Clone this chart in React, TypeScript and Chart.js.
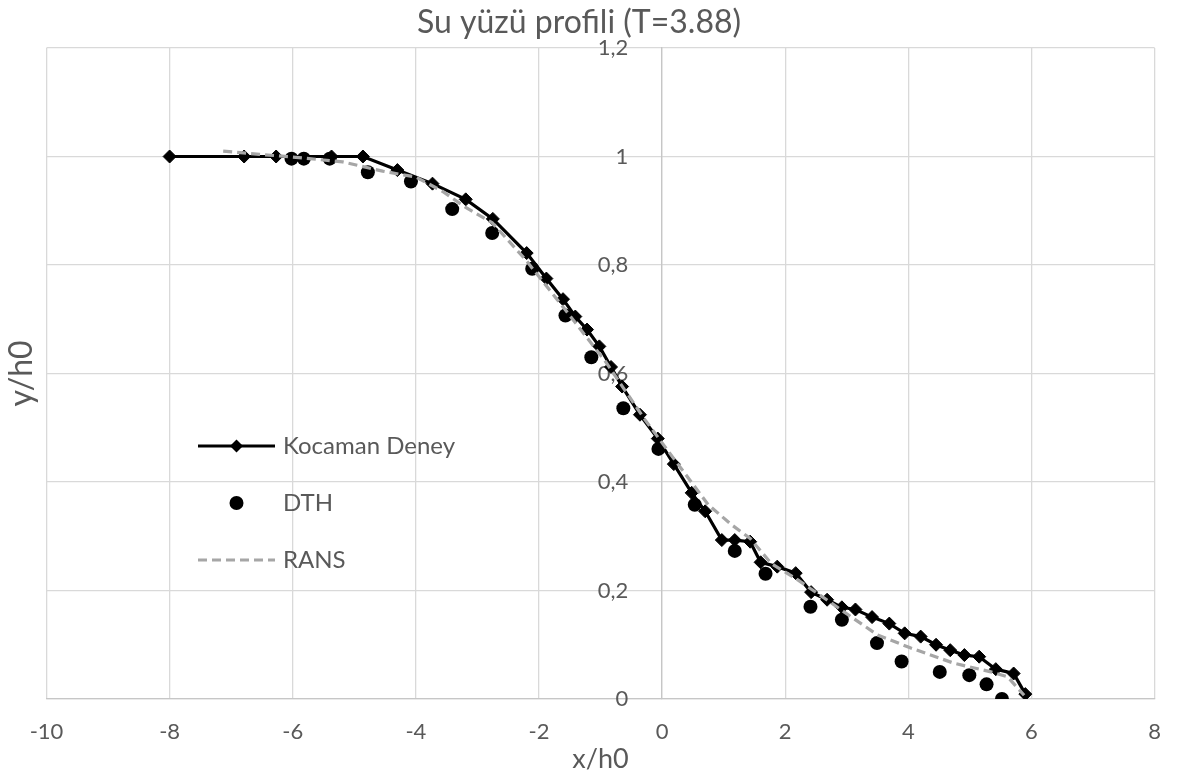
import React, { useEffect, useRef } from 'react';
import { Chart, registerables } from 'chart.js';

Chart.register(...registerables);

const chartTitle = 'Su yüzü profili (T=3.88)';
const xAxisTitle = 'x/h0';
const yAxisTitle = 'y/h0';
const seriesNames = ['Kocaman Deney', 'DTH', 'RANS'];

const xTicks = [-10, -8, -6, -4, -2, 0, 2, 4, 6, 8];
const xTickLabels = ['-10', '-8', '-6', '-4', '-2', '0', '2', '4', '6', '8'];
const yTicks = [0, 0.2, 0.4, 0.6, 0.8, 1.0, 1.2];
const yTickLabels = ['0', '0,2', '0,4', '0,6', '0,8', '1', '1,2'];

const kocamanX = [-8.0, -6.79, -6.27, -5.37, -4.86, -4.30, -3.73, -3.19, -2.75, -2.20, -1.88, -1.61, -1.41, -1.22, -1.02, -0.83, -0.65, -0.36, -0.07, 0.19, 0.48, 0.70, 0.97, 1.18, 1.43, 1.60, 1.87, 2.17, 2.42, 2.68, 2.92, 3.14, 3.41, 3.69, 3.94, 4.20, 4.45, 4.68, 4.91, 5.15, 5.42, 5.71, 5.90];
const kocamanY = [1.0, 1.0, 1.0, 1.0, 1.0, 0.975, 0.950, 0.921, 0.885, 0.822, 0.775, 0.737, 0.705, 0.681, 0.650, 0.612, 0.576, 0.524, 0.480, 0.433, 0.380, 0.346, 0.293, 0.293, 0.290, 0.252, 0.244, 0.232, 0.197, 0.183, 0.169, 0.165, 0.151, 0.139, 0.121, 0.115, 0.100, 0.090, 0.081, 0.078, 0.055, 0.047, 0.009];

const dthX = [-6.02, -5.82, -5.40, -4.78, -4.08, -3.41, -2.76, -2.11, -1.57, -1.15, -0.63, -0.06, 0.53, 1.18, 1.68, 2.41, 2.92, 3.49, 3.89, 4.51, 4.99, 5.27, 5.52];
const dthY = [0.996, 0.996, 0.996, 0.971, 0.954, 0.903, 0.859, 0.793, 0.707, 0.630, 0.536, 0.461, 0.358, 0.273, 0.231, 0.170, 0.146, 0.103, 0.069, 0.050, 0.044, 0.027, 0.0];

const ransX = [-7.13, -6.54, -5.9, -5.19, -4.54, -4.0, -3.57, -3.19, -2.76, -2.22, -1.57, -0.92, -0.28, 0.21, 0.75, 1.13, 1.43, 1.77, 2.21, 2.75, 2.91, 3.50, 4.04, 4.74, 5.34, 5.61, 5.88];
const ransY = [1.01, 1.004, 0.998, 0.99, 0.973, 0.962, 0.936, 0.906, 0.878, 0.81, 0.717, 0.622, 0.515, 0.44, 0.358, 0.321, 0.296, 0.250, 0.219, 0.177, 0.164, 0.118, 0.094, 0.066, 0.050, 0.041, 0.007];

const toPoints = (xs: number[], ys: number[]) => xs.map((x, i) => ({ x, y: ys[i] }));

const FONT = 'Lato';
const TEXT = '#595959';

const legendPlugin = {
  id: 'insideLegend',
  afterDatasetsDraw(chart: any) {
    const { ctx, chartArea } = chart;
    const x0 = chartArea.left + 151.5;
    const x1 = chartArea.left + 228.5;
    const xm = (x0 + x1) / 2;
    const tx = chartArea.left + 236.5;
    const rows = [446, 503, 560];
    ctx.save();
    ctx.font = `24px ${FONT}`;
    ctx.textBaseline = 'middle';
    ctx.textAlign = 'left';
    chart.data.datasets.forEach((ds: any, i: number) => {
      const y = rows[i];
      if (ds.showLine) {
        ctx.beginPath();
        ctx.setLineDash(ds.borderDash || []);
        ctx.strokeStyle = ds.borderColor;
        ctx.lineWidth = ds.borderWidth;
        ctx.moveTo(x0, y);
        ctx.lineTo(x1, y);
        ctx.stroke();
        ctx.setLineDash([]);
      }
      if (ds.pointRadius > 0) {
        ctx.fillStyle = ds.pointBackgroundColor;
        ctx.beginPath();
        const r = ds.pointRadius;
        if (ds.pointStyle === 'rectRot') {
          ctx.moveTo(xm, y - r);
          ctx.lineTo(xm + r, y);
          ctx.lineTo(xm, y + r);
          ctx.lineTo(xm - r, y);
          ctx.closePath();
        } else {
          ctx.arc(xm, y, r, 0, Math.PI * 2);
        }
        ctx.fill();
      }
      ctx.fillStyle = TEXT;
      ctx.fillText(ds.label, tx, y);
    });
    ctx.restore();
  },
};

export default function App() {
  const ref = useRef<HTMLCanvasElement | null>(null);
  useEffect(() => {
    if (!ref.current) return;
    const chart = new Chart(ref.current, {
      type: 'scatter',
      data: {
        datasets: [
          {
            label: seriesNames[0],
            data: toPoints(kocamanX, kocamanY),
            showLine: true,
            borderColor: '#000000',
            borderWidth: 3.2,
            pointStyle: 'rectRot',
            pointRadius: 6.5,
            pointBackgroundColor: '#000000',
            pointBorderColor: '#000000',
            pointBorderWidth: 1,
            order: 2,
            yAxisID: 'y',
            xAxisID: 'x',
          },
          {
            label: seriesNames[1],
            data: toPoints(dthX, dthY),
            showLine: false,
            pointStyle: 'circle',
            pointRadius: 7,
            pointBackgroundColor: '#000000',
            pointBorderColor: '#000000',
            pointBorderWidth: 0,
            order: 1,
            yAxisID: 'y',
            xAxisID: 'x',
          },
          {
            label: seriesNames[2],
            data: toPoints(ransX, ransY),
            showLine: true,
            borderColor: '#a6a6a6',
            borderWidth: 3.2,
            borderDash: [9, 5],
            pointRadius: 0,
            order: 0,
            yAxisID: 'y',
            xAxisID: 'x',
          },
        ],
      } as any,
      options: {
        animation: false,
        responsive: true,
        maintainAspectRatio: false,
        layout: { padding: { left: 0, right: 23, top: 0, bottom: 0 } },
        plugins: {
          legend: { display: false },
          tooltip: { enabled: false },
          title: {
            display: true,
            text: chartTitle,
            color: TEXT,
            font: { family: FONT, size: 32, weight: 'normal', lineHeight: 1.2 },
            padding: { top: 3, bottom: 6.6 },
          },
        },
        scales: {
          x: {
            type: 'linear',
            position: 'bottom',
            min: -10,
            max: 8,
            afterBuildTicks: (s: any) => {
              s.ticks = xTicks.map((v) => ({ value: v }));
            },
            ticks: {
              callback: (_v: any, i: number) => xTickLabels[i],
              color: TEXT,
              font: { family: FONT, size: 22, lineHeight: 1.2 },
              padding: 20,
              maxRotation: 0,
              autoSkip: false,
            },
            grid: { color: '#d9d9d9', lineWidth: 1.3, drawTicks: false },
            border: { color: '#c6c6c6', width: 1.3 },
            title: {
              display: true,
              text: xAxisTitle,
              color: TEXT,
              font: { family: FONT, size: 27, lineHeight: 1 },
              padding: { top: -20, bottom: 0.6 },
            },
          },
          y: {
            type: 'linear',
            position: { x: 0 },
            min: 0,
            max: 1.2,
            afterBuildTicks: (s: any) => {
              s.ticks = yTicks.map((v) => ({ value: v }));
            },
            ticks: {
              callback: (_v: any, i: number) => yTickLabels[i] + '      ',
              color: TEXT,
              font: { family: FONT, size: 22, lineHeight: 1.2 },
              autoSkip: false,
            },
            grid: { color: '#d9d9d9', lineWidth: 1.3, drawTicks: false },
            border: { color: '#c6c6c6', width: 1.3 },
          },
          yTitle: {
            type: 'linear',
            position: 'left',
            display: true,
            min: 0,
            max: 1,
            grid: { display: false, drawTicks: false },
            border: { display: false },
            ticks: { display: false },
            title: {
              display: true,
              text: yAxisTitle,
              color: TEXT,
              font: { family: FONT, size: 32, lineHeight: 1.2 },
              padding: { top: 2.8, bottom: 5.3 },
            },
          },
        } as any,
      },
      plugins: [legendPlugin],
    });
    return () => chart.destroy();
  }, []);

  return (
    <div style={{ position: 'absolute', left: 0, top: 0, width: 1181, height: 773, background: '#ffffff' }}>
      <canvas ref={ref} />
    </div>
  );
}
